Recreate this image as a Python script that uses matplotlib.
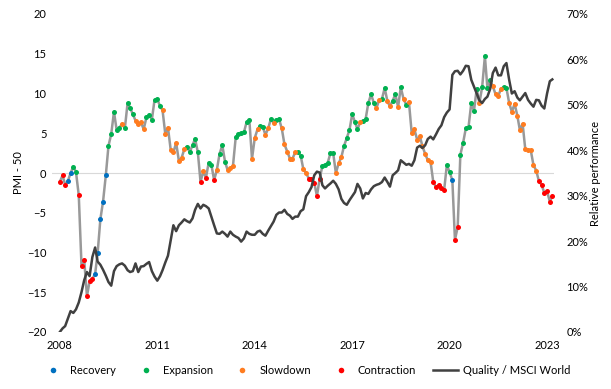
import matplotlib
matplotlib.use("Agg")
import matplotlib.pyplot as plt
import matplotlib.dates as mdates
from matplotlib.lines import Line2D
import pandas as pd

plt.rcParams['font.family'] = ['Lato', 'DejaVu Sans']

# PMI - 50, monthly from Jan 2008
pmi = [
    -1.1, -0.3, -1.5, -1.0, 0.0, 0.8, 0.1, -2.8, -11.7, -10.9,
    -15.5, -13.6, -13.3, -12.7, -10.1, -5.8, -3.6, -0.3, 3.4, 4.9,
    7.7, 5.4, 5.7, 6.2, 5.6, 8.8, 8.2, 7.4, 6.6, 6.2,
    6.4, 5.5, 7.0, 7.3, 6.7, 9.2, 9.3, 8.4, 7.9, 4.9,
    5.7, 2.9, 2.6, 3.8, 1.5, 1.9, 3.0, 3.3, 2.6, 3.5,
    4.3, 2.6, -1.1, 0.2, -0.6, 1.3, 1.0, -0.9, 0.4, 2.4,
    3.5, 1.4, 0.4, 0.6, 0.9, 4.5, 4.9, 5.0, 5.1, 6.4,
    6.7, 1.8, 4.4, 5.5, 5.9, 5.8, 4.8, 5.6, 6.8, 6.3,
    6.7, 6.8, 5.6, 3.6, 2.7, 1.8, 1.8, 2.6, 2.6, 2.2,
    0.5, 0.0, -0.7, -0.7, -1.2, -2.9, -0.7, 0.9, 1.0, 1.3,
    2.5, 2.5, 0.0, 1.2, 2.0, 3.4, 4.4, 5.4, 7.4, 6.4,
    5.5, 6.4, 6.5, 6.8, 8.8, 9.9, 8.8, 8.2, 9.2, 9.3,
    10.7, 9.0, 8.4, 9.1, 9.9, 8.3, 10.8, 9.3, 8.6, 8.9,
    5.0, 5.5, 4.2, 4.6, 3.4, 2.4, 1.6, 1.4, -1.1, -1.8,
    -1.5, -1.9, -2.1, 1.0, 0.1, -0.9, -8.4, -6.8, 2.3, 3.8,
    5.6, 5.8, 8.8, 7.8, 10.6, 8.8, 10.8, 14.7, 10.7, 11.7,
    10.9, 9.9, 9.7, 10.6, 10.8, 10.7, 8.8, 7.7, 8.7, 7.2,
    5.4, 6.2, 3.0, 2.9, 2.9, 1.0, 0.3, -1.0, -1.5, -2.5,
    -2.3, -3.6, -2.9,
]

# cycle phase per month: R=Recovery, E=Expansion, S=Slowdown, C=Contraction
phase = list(
    "CCCRREECCC" "CCCRRRRREE" "EEESEEEESS" "SSEEEEEESS" "SSSSSSSEEE"
    "EECSCEECSE" "EESSSEEEEE" "ESSSEESSES" "EESSSSSSEE" "SSCCCCCEEE"
    "EESSSEEEEE" "ESEEEEESSE" "ESSEESESES" "SSSSSSSSCC" "CCCEERCCEE"
    "EEEEESEEEE" "SSSSEESSSS" "SSSSSSSCCC" "CCC"
)

# Quality / MSCI World relative performance (%)
rel_perf = [
    0.0, 0.8, 1.3, 3.0, 4.6, 4.2, 5.0, 6.5, 8.8, 11.4,
    13.2, 12.3, 16.5, 18.6, 15.5, 14.8, 13.7, 12.4, 11.0, 10.2,
    13.4, 14.5, 14.9, 15.1, 14.6, 13.6, 13.2, 13.4, 15.1, 13.2,
    14.4, 14.5, 15.0, 15.4, 13.4, 12.2, 11.3, 12.3, 13.6, 15.3,
    16.8, 20.2, 23.5, 22.2, 23.5, 24.1, 24.8, 24.4, 24.1, 25.0,
    26.9, 28.2, 27.2, 28.0, 27.7, 27.2, 25.3, 23.5, 21.7, 21.6,
    22.1, 21.6, 21.0, 22.1, 21.4, 21.0, 20.7, 19.9, 20.6, 22.1,
    21.6, 21.4, 21.4, 22.1, 22.3, 21.6, 21.2, 22.3, 23.3, 24.3,
    25.8, 26.3, 26.3, 26.9, 26.0, 25.6, 24.9, 25.4, 25.4, 26.6,
    27.0, 29.9, 30.8, 31.9, 34.5, 35.3, 35.1, 32.3, 31.6, 32.2,
    32.7, 33.3, 32.6, 31.4, 29.3, 28.4, 28.0, 29.0, 29.9, 30.8,
    32.6, 31.6, 29.4, 30.6, 30.4, 31.4, 32.1, 32.4, 32.6, 33.0,
    34.0, 33.0, 32.0, 34.5, 35.0, 35.6, 37.8, 37.3, 36.8, 37.0,
    36.6, 37.8, 40.6, 41.0, 40.5, 41.1, 42.5, 43.0, 42.4, 43.5,
    44.7, 45.5, 47.3, 48.3, 49.0, 56.6, 57.4, 57.5, 56.7, 57.5,
    58.6, 58.5, 55.5, 54.0, 52.5, 51.0, 50.4, 51.3, 51.8, 53.5,
    57.0, 58.2, 56.5, 56.5, 58.5, 59.2, 55.5, 52.5, 53.0, 51.6,
    51.0, 51.8, 52.6, 51.1, 50.3, 49.6, 51.1, 51.0, 49.8, 49.2,
    52.5, 55.2, 55.6,
]

phase_names = {"R": "Recovery", "E": "Expansion", "S": "Slowdown", "C": "Contraction"}
phase_colors = {"R": "#0070C0", "E": "#00B050", "S": "#FF7C20", "C": "#FF0000"}
year_ticks = [2008, 2011, 2014, 2017, 2020, 2023]

dates = pd.date_range("2008-01-01", periods=len(pmi), freq="MS")

fig, ax = plt.subplots(figsize=(6.11, 3.89), dpi=100)
fig.subplots_adjust(left=52 / 611, right=554 / 611, top=1 - 14 / 389, bottom=1 - 332 / 389)
ax2 = ax.twinx()

ax.axhline(0, color="#D9D9D9", lw=0.8, zorder=0)
ax.plot(dates, pmi, color="#999999", lw=1.8, zorder=1)
for code in "RESC":
    xs = [d for d, p in zip(dates, phase) if p == code]
    ys = [v for v, p in zip(pmi, phase) if p == code]
    ax.plot(xs, ys, "o", ms=3.6, color=phase_colors[code], mec="none", zorder=2)

ax2.plot(dates, rel_perf, color="#404040", lw=1.8)

ax.set_ylim(-20, 20)
ax.set_yticks(range(-20, 21, 5))
ax2.set_ylim(0, 70)
ax2.set_yticks(range(0, 71, 10))
ax2.set_yticklabels([f"{v}%" for v in range(0, 71, 10)])

ax.set_xlim(pd.Timestamp("2007-10-05"), pd.Timestamp("2023-03-20"))
ax.set_xticks([pd.Timestamp(f"{y}-01-01") for y in year_ticks])
ax.xaxis.set_major_formatter(mdates.DateFormatter("%Y"))

for a in (ax, ax2):
    for s in a.spines.values():
        s.set_visible(False)
    a.tick_params(length=0, labelsize=8, colors="#000000")
ax.tick_params(axis="y", pad=4)
ax.tick_params(axis="x", pad=6)
ax2.tick_params(axis="y", pad=9)

ax.set_ylabel("PMI - 50", fontsize=8, labelpad=2)
ax2.set_ylabel("Relative performance", fontsize=8, labelpad=1)

handles = [Line2D([], [], ls="none", marker="o", ms=4, color=phase_colors[c], mec="none")
           for c in "RESC"]
handles.append(Line2D([], [], color="#404040", lw=1.8))
labels = [phase_names[c] for c in "RESC"] + ["Quality / MSCI World"]
fig.legend(handles, labels, loc="center", bbox_to_anchor=(0.5, 1 - 370 / 389), ncol=5,
           frameon=False, fontsize=8, handlelength=2.2, handletextpad=0.45, columnspacing=1.55)

fig.savefig("out.png", dpi=100)
